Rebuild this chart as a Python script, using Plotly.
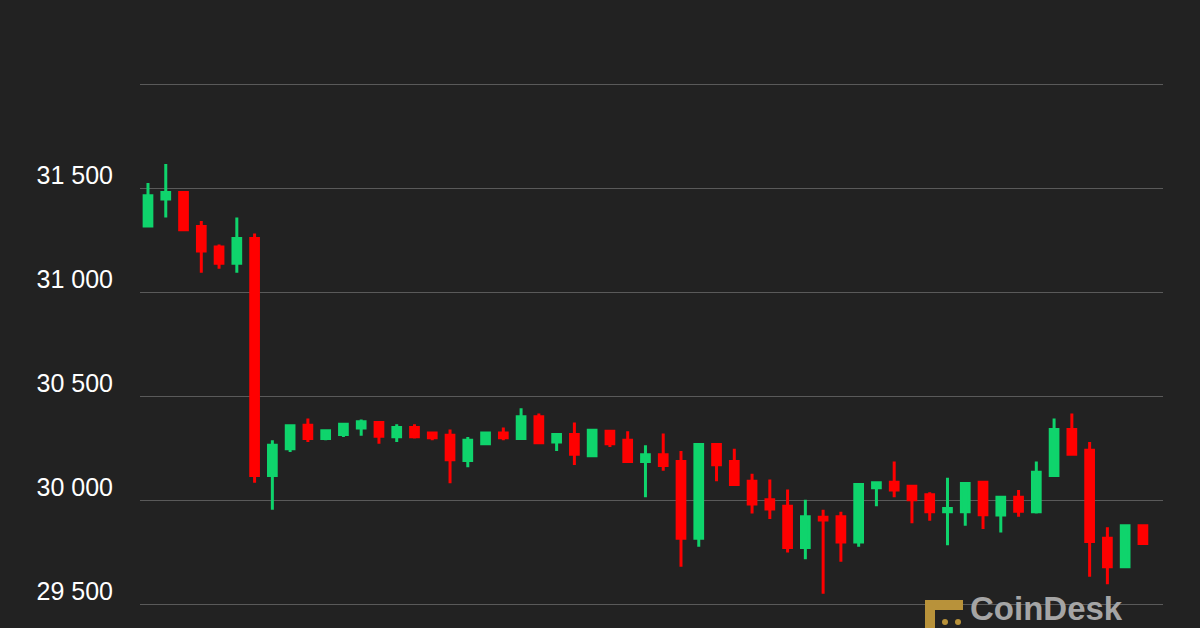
import plotly.graph_objects as go

# ---- data ----
open_ = [31318, 31447, 31479, 31315, 31216, 31138, 31257, 30118, 30247, 30360,
         30296, 30315, 30347, 30373, 30305, 30349, 30323, 30312, 30190, 30271,
         30323, 30296, 30400, 30279, 30315, 30213, 30331, 30287, 30185, 30218,
         30185, 29817, 30267, 30185, 30091, 30001, 29970, 29772, 29917, 29920,
         29799, 30059, 30086, 30067, 30025, 29944, 29944, 30086, 29928, 30014,
         29944, 30118, 30339, 30239, 29817, 29680, 29877]
high = [31524, 31616, 31479, 31342, 31229, 31358, 31281, 30287, 30357, 30392,
        30341, 30365, 30387, 30373, 30365, 30365, 30323, 30339, 30303, 30323,
        30349, 30441, 30416, 30323, 30373, 30339, 30331, 30331, 30263, 30320,
        30236, 30271, 30271, 30247, 30126, 30099, 30051, 30002, 29953, 29944,
        30075, 30083, 30186, 30073, 30038, 30107, 30080, 30086, 30014, 30049,
        30186, 30392, 30416, 30279, 29869, 29877, 29877]
low = [31318, 31358, 31299, 31093, 31112, 31093, 30083, 29953, 30231, 30279,
       30287, 30303, 30309, 30271, 30279, 30296, 30287, 30081, 30158, 30271,
       30287, 30296, 30276, 30236, 30168, 30213, 30255, 30185, 30014, 30141,
       29680, 29775, 30091, 30075, 29936, 29909, 29748, 29716, 29550, 29704,
       29775, 29970, 30014, 29888, 29901, 29783, 29877, 29861, 29844, 29920,
       29936, 30118, 30220, 29631, 29595, 29680, 29791]
close = [31463, 31479, 31299, 31197, 31138, 31257, 30118, 30263, 30357, 30296,
         30333, 30365, 30376, 30307, 30349, 30305, 30299, 30194, 30287, 30323,
         30299, 30400, 30276, 30315, 30220, 30336, 30271, 30185, 30218, 30166,
         29817, 30267, 30170, 30075, 29981, 29957, 29772, 29920, 29904, 29799,
         30075, 30083, 30049, 30001, 29944, 29960, 30080, 29930, 30014, 29946,
         30134, 30339, 30220, 29801, 29680, 29877, 29791]
periods = list(range(len(open_)))

tick_vals = [29500, 30000, 30500, 31000, 31500, 32000]
tick_text = ["29 500", "30 000", "30 500", "31 000", "31 500", ""]

GREEN = "#0fd46c"
RED = "#ff0000"
BG = "#222222"
W, H = 1200, 628
L, R = 140, 37

fig = go.Figure(go.Candlestick(
    x=periods, open=open_, high=high, low=low, close=close,
    increasing=dict(line=dict(color=GREEN, width=3), fillcolor=GREEN),
    decreasing=dict(line=dict(color=RED, width=3), fillcolor=RED),
    whiskerwidth=0, hoverinfo="skip",
))

def px(x):
    return (x - L) / (W - L - R)

def py(y):
    return (H - y) / H

GOLD = "#b8923a"
shapes = [
    dict(type="rect", xref="paper", yref="paper", x0=px(925), x1=px(963),
         y0=py(610), y1=py(600), fillcolor=GOLD, line=dict(width=0), layer="above"),
    dict(type="rect", xref="paper", yref="paper", x0=px(925), x1=px(935),
         y0=py(628), y1=py(600), fillcolor=GOLD, line=dict(width=0), layer="above"),
]
for cx in (945, 958):
    shapes.append(dict(type="circle", xref="paper", yref="paper",
                       x0=px(cx - 3), x1=px(cx + 3), y0=py(625), y1=py(619),
                       fillcolor=GOLD, line=dict(width=0), layer="above"))

fig.update_layout(
    width=W, height=H,
    margin=dict(l=L, r=R, t=0, b=0),
    paper_bgcolor=BG, plot_bgcolor=BG,
    showlegend=False,
    boxgap=0.38,
    font=dict(family="Liberation Sans, Arial, sans-serif", color="white"),
    xaxis=dict(range=[-0.45, 57.13], showgrid=False, zeroline=False,
               showticklabels=False, rangeslider=dict(visible=False),
               fixedrange=True),
    yaxis=dict(range=[29385, 32404], tickvals=tick_vals, ticktext=tick_text,
               showgrid=True, gridcolor="#5a5a5a", gridwidth=1, zeroline=False,
               tickfont=dict(size=25, color="white"),
               ticklabelposition="outside top", ticklabelstandoff=26,
               ticklabelshift=5,
               ticks="", fixedrange=True),
    shapes=shapes,
    annotations=[dict(text="<b>CoinDesk</b>", xref="paper", yref="paper",
                      x=px(969), y=py(628), xanchor="left", yanchor="bottom",
                      showarrow=False, borderpad=0,
                      font=dict(size=33, color="#a5a5a5",
                                family="Liberation Sans, Arial, sans-serif"))],
)

fig.write_html("out.html", config={"displayModeBar": False},
               post_script="document.body.style.margin='0';")
